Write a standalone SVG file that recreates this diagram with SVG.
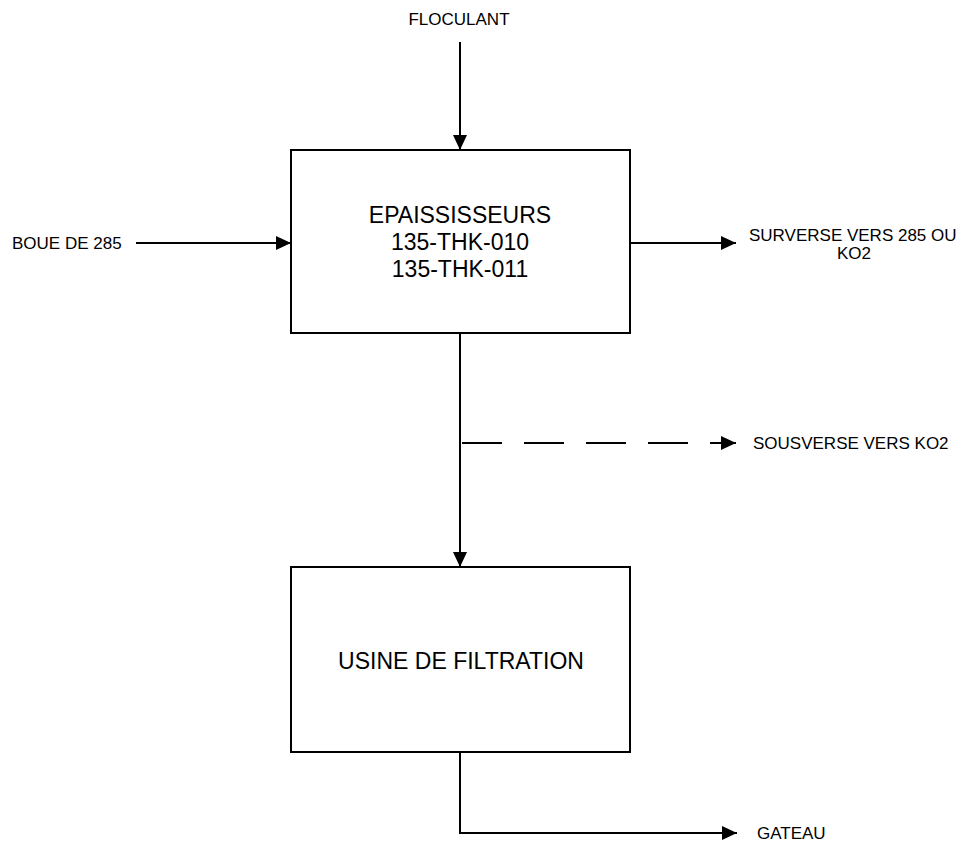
<svg xmlns="http://www.w3.org/2000/svg" width="966" height="842" viewBox="0 0 966 842">
<style>
.box{fill:#fff;stroke:#000;stroke-width:2}
.ln{fill:none;stroke:#000;stroke-width:2}
.dash{stroke-dasharray:40 22}
.t{font-family:"Liberation Sans",Arial,sans-serif;fill:#000}
.s{font-size:17px}
.b{font-size:23px}
</style>
<defs>
<marker id="ah" markerWidth="15" markerHeight="14" refX="15" refY="7" orient="auto" markerUnits="userSpaceOnUse">
<path d="M0,0 L15,7 L0,14 Z" fill="#000"/>
</marker>
</defs>
<rect width="966" height="842" fill="#fff"/>
<g id="connectors">
<line class="ln" x1="460" y1="42" x2="460" y2="150" marker-end="url(#ah)"/>
<line class="ln" x1="136" y1="243" x2="291" y2="243" marker-end="url(#ah)"/>
<line class="ln" x1="630" y1="243" x2="736" y2="243" marker-end="url(#ah)"/>
<line class="ln" x1="460" y1="333" x2="460" y2="567" marker-end="url(#ah)"/>
<line class="ln dash" x1="462" y1="443" x2="736" y2="443" marker-end="url(#ah)"/>
<polyline class="ln" points="460,752 460,833 737,833" marker-end="url(#ah)"/>
</g>
<g id="epaississeurs">
<rect class="box" x="291" y="150" width="339" height="183"/>
<text class="t b" text-anchor="middle" x="460" y="223">EPAISSISSEURS</text>
<text class="t b" text-anchor="middle" x="460" y="250">135-THK-010</text>
<text class="t b" text-anchor="middle" x="460" y="277">135-THK-011</text>
</g>
<g id="usine">
<rect class="box" x="291" y="567" width="339" height="185"/>
<text class="t b" text-anchor="middle" x="461" y="669">USINE DE FILTRATION</text>
</g>
<g id="labels">
<text class="t s" text-anchor="middle" x="459" y="25">FLOCULANT</text>
<text class="t s" x="12" y="249">BOUE DE 285</text>
<text class="t s" x="749" y="241">SURVERSE VERS 285 OU</text>
<text class="t s" text-anchor="middle" x="854" y="259">KO2</text>
<text class="t s" x="753" y="449">SOUSVERSE VERS KO2</text>
<text class="t s" x="757" y="839">GATEAU</text>
</g>
</svg>
